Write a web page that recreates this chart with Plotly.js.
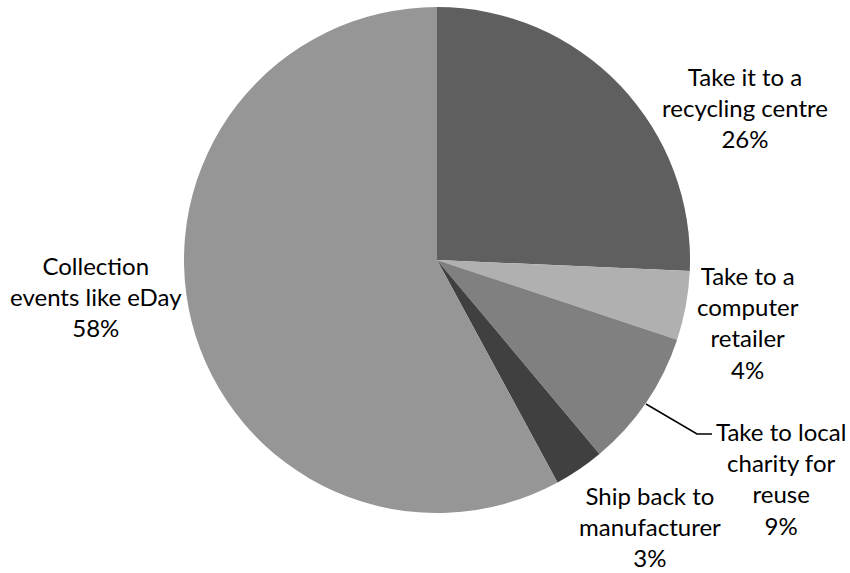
<!DOCTYPE html>
<html>
<head>
<meta charset="utf-8">
<script src="https://cdn.plot.ly/plotly-3.0.1.min.js"></script>
<style>
html, body { margin: 0; padding: 0; background: #ffffff; }
#chart { width: 850px; height: 573px; }
</style>
</head>
<body>
<div id="chart"></div>
<script>
// Data
const labels = [
  "Take it to a recycling centre",
  "Take to a computer retailer",
  "Take to local charity for reuse",
  "Ship back to manufacturer",
  "Collection events like eDay"
];
const labelLines = [
  ["Take it to a", "recycling centre"],
  ["Take to a", "computer", "retailer"],
  ["Take to local", "charity for", "reuse"],
  ["Ship back to", "manufacturer"],
  ["Collection", "events like eDay"]
];
const values = [25.7, 4.4, 8.8, 3.2, 57.9];
const colors = ["#5f5f5f", "#b0b0b0", "#808080", "#404040", "#969696"];

const W = 850, H = 573;
const px = x => x / W;
const py = y => 1 - y / H;

const total = values.reduce((a, b) => a + b, 0);
const pct = values.map(v => Math.round(v / total * 100) + "%");

// label block centres (pixels)
const labelPos = [
  [745, 108],
  [748, 322],
  [781, 478],
  [650, 526],
  [96, 296]
];

const annotations = labels.map((l, i) => ({
  xref: "paper", yref: "paper",
  x: px(labelPos[i][0]), y: py(labelPos[i][1]),
  xanchor: "center", yanchor: "middle", align: "center",
  showarrow: false,
  text: labelLines[i].concat([pct[i]]).join("<br>"),
  font: { family: "Lato, 'Open Sans', sans-serif", size: 24, color: "#000000" }
}));

const trace = {
  type: "pie",
  labels: labels,
  values: values,
  sort: false,
  direction: "clockwise",
  rotation: 0,
  textinfo: "none",
  hoverinfo: "label+percent",
  marker: { colors: colors, line: { width: 0 } },
  domain: { x: [px(184), px(690)], y: [py(513), py(7)] },
  showlegend: false
};

const layout = {
  width: W, height: H,
  margin: { l: 0, r: 0, t: 0, b: 0 },
  paper_bgcolor: "#ffffff",
  showlegend: false,
  annotations: annotations,
  shapes: [{
    type: "path", xref: "paper", yref: "paper",
    path: "M " + px(646) + " " + py(404) + " L " + px(697) + " " + py(434) + " L " + px(712) + " " + py(434),
    line: { color: "#000000", width: 1.5 }
  }]
};

Plotly.newPlot("chart", [trace], layout, { displayModeBar: false, staticPlot: true });
</script>
</body>
</html>
